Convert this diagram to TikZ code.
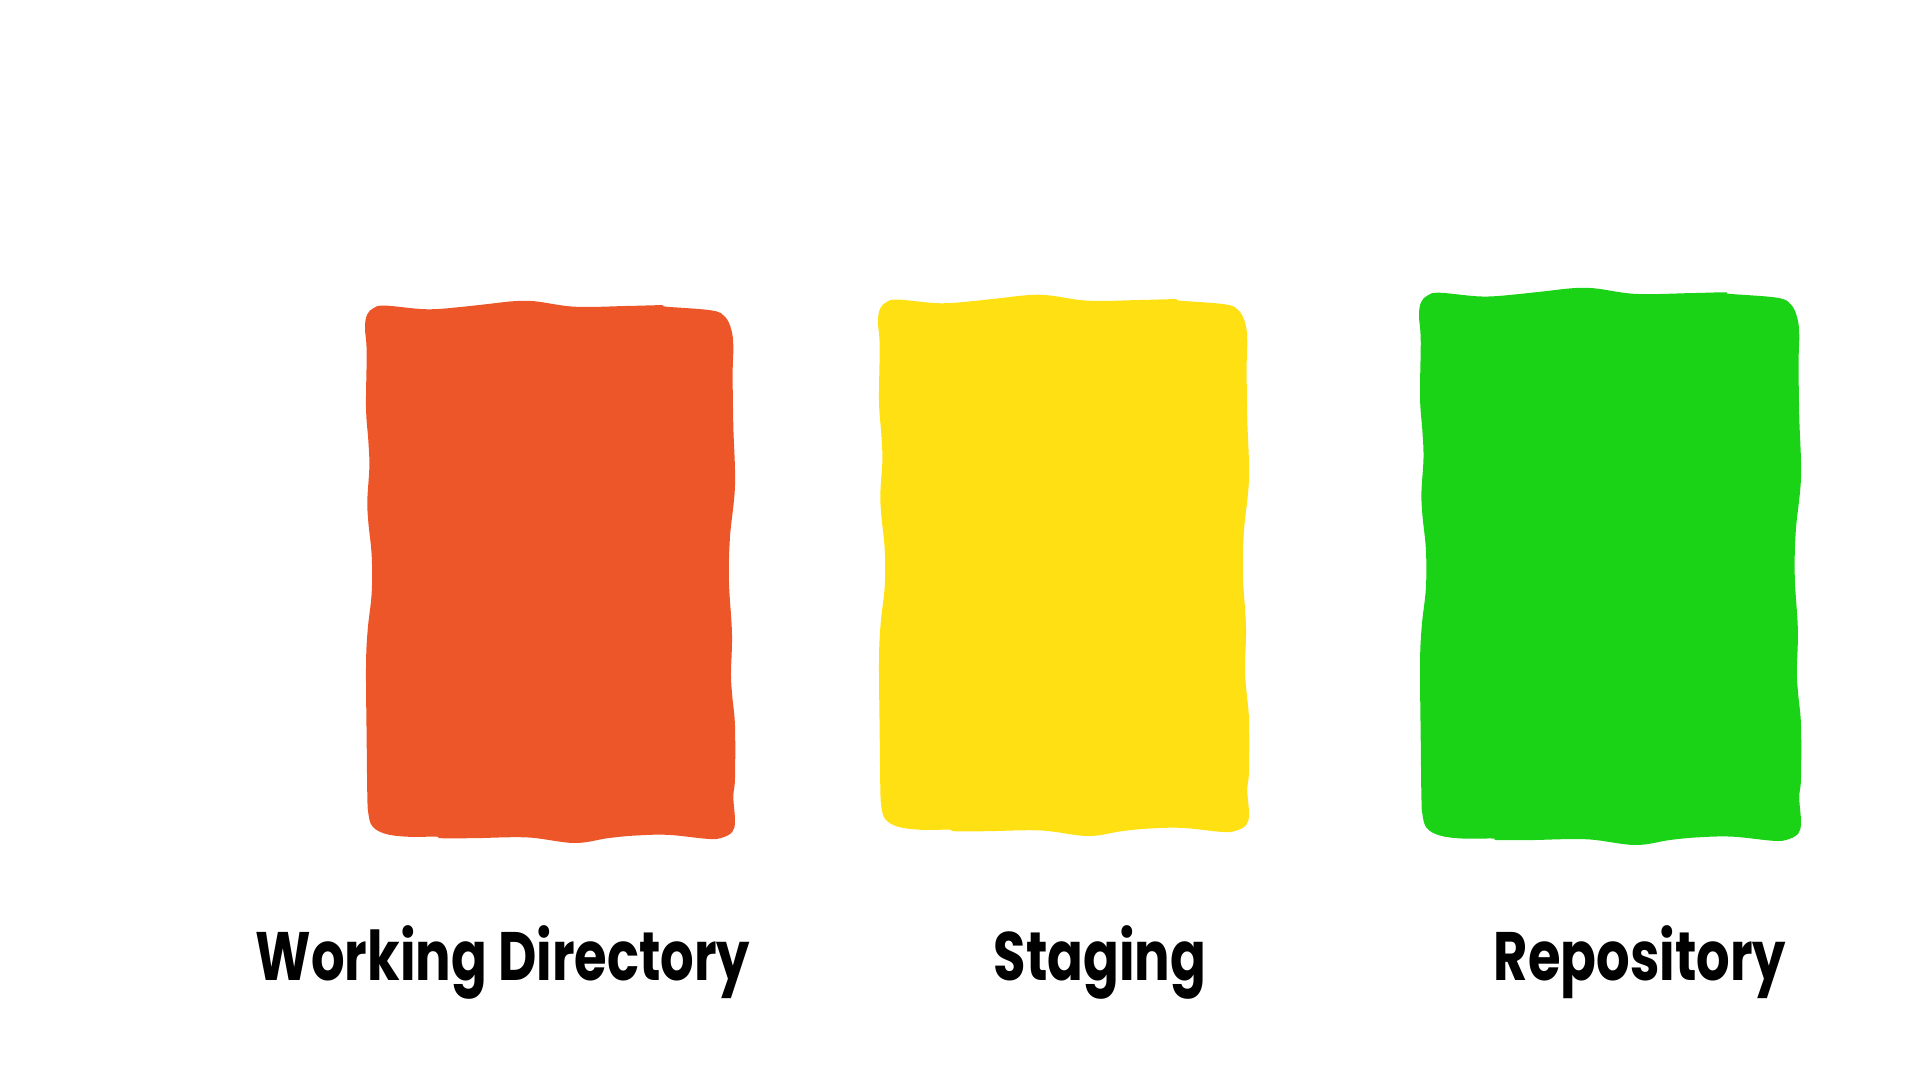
\documentclass[tikz,border=0pt]{standalone}
\usepackage{fontspec}
\setmainfont{Poppins}
\usetikzlibrary{positioning}
\definecolor{workdir}{HTML}{EC5629}
\definecolor{stage}{HTML}{FFE012}
\definecolor{repo}{HTML}{1AD317}
\newcommand{\squeeze}[1]{\scalebox{0.77}[1]{#1}}

\begin{document}
\begin{tikzpicture}[x=0.1mm, y=-0.1mm,
  lbl/.style={anchor=base, inner sep=0pt, font=\fontsize{19.5}{22}\selectfont\bfseries}
]
  \useasboundingbox (0,0) rectangle (1920,1080);
  % wobbly boxes, one template scaled per area
  \foreach \col/\sx/\sy/\w/\h in {workdir/365/300/370/543, stage/878/294/371/542, repo/1419/287/382/558}{
    \begin{scope}[shift={(\sx,\sy)}, xscale=\w/1105, yscale=\h/1465]
      \fill[\col] plot[smooth cycle, tension=0.6] coordinates {
        (0,75) (6,40) (25,22) (60,15) (185,25) (295,18) (355,12) (485,2) (625,18) (785,16) (885,14) (900,18)
        (1035,28) (1075,45) (1094,80) (1100,125) (1098,200) (1100,340) (1105,500) (1090,640) (1087,760)
        (1096,900) (1093,1010) (1097,1070) (1105,1150) (1105,1290) (1100,1340) (1105,1405)
        (1097,1435) (1065,1451) (1025,1454) (905,1443) (805,1445) (725,1452) (625,1465) (485,1450) (325,1452)
        (225,1452) (215,1448) (125,1448) (60,1440) (22,1420) (10,1385) (7,1340) (5,1190) (3,990) (8,890)
        (20,790) (20,690) (10,600) (7,540) (13,450) (10,380) (3,290) (5,140)};
    \end{scope}
  }
  \node[lbl] (wd) at (503,980) {\squeeze{Working Directory}};
  \node[lbl] (st) at (1100,980) {\squeeze{Staging}};
  \node[lbl] (rp) at (1640,980) {\squeeze{Repository}};
\end{tikzpicture}
\end{document}
